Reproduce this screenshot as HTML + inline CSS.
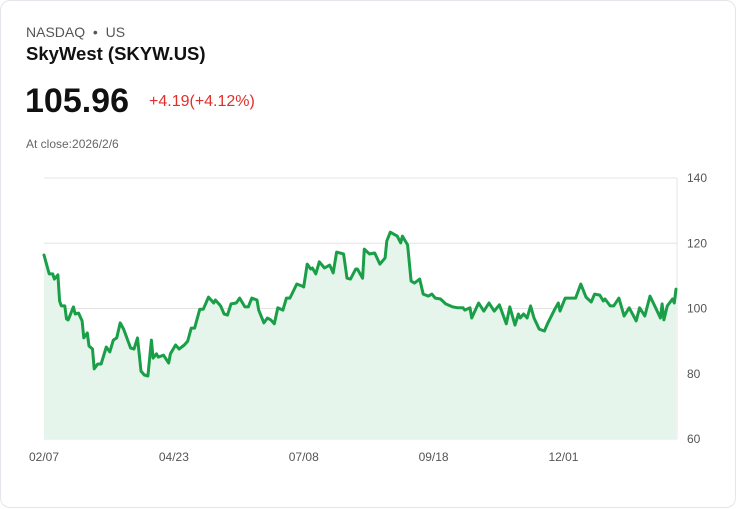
<!DOCTYPE html>
<html><head><meta charset="utf-8"><style>
body{margin:0;background:#fff;font-family:"Liberation Sans",sans-serif;}
.card{position:absolute;left:0;top:0;width:734px;height:506px;border:1px solid #e3e6ea;border-radius:10px;background:#fff;}
.t{position:absolute;white-space:nowrap;}
</style></head><body>
<div class="card">
<div class="t" style="left:25px;top:23px;font-size:14px;color:#555;">NASDAQ &nbsp;•&nbsp; US</div>
<div class="t" style="left:25px;top:42px;font-size:18.5px;font-weight:bold;color:#111;">SkyWest (SKYW.US)</div>
<div class="t" style="left:24px;top:81px;font-size:34px;font-weight:bold;color:#111;">105.96</div>
<div class="t" style="left:148px;top:92px;font-size:16px;color:#e0302b;">+4.19(+4.12%)</div>
<div class="t" style="left:25px;top:136px;font-size:12px;color:#666;">At close:2026/2/6</div>
<svg id="chart" width="736" height="508" style="position:absolute;left:0;top:0;"></svg>
</div>
<script>
const days=[0,3,5,6,8,9,10,12,13,14,17,18,20,22,23,25,26,28,29,31,33,36,38,40,42,44,46,50,52,54,56,58,60,62,63,65,66,69,72,73,76,78,81,83,85,87,90,92,95,98,99,102,104,106,108,111,113,116,118,120,123,124,127,129,131,133,135,138,140,142,146,149,150,152,154,155,157,159,162,165,167,169,173,175,177,180,181,184,185,188,191,194,197,198,200,204,206,207,210,212,214,217,219,222,224,226,229,232,236,239,242,243,246,247,251,254,257,260,263,267,269,272,274,275,277,279,281,283,286,289,291,295,297,298,301,304,307,310,313,316,318,321,323,324,327,329,332,335,338,342,344,347,350,353,356,357,358,360,363,364,365];
const prices=[116.4,110.6,110.6,109.0,110.3,102.3,100.8,100.8,96.8,96.5,100.5,98.3,98.6,96.2,91.0,92.5,88.5,87.6,81.5,83.0,83.0,88.2,86.7,90.3,91.0,95.6,93.7,87.9,87.6,91.0,80.8,79.6,79.3,90.3,84.8,86.1,85.1,85.7,83.3,86.1,88.8,87.6,88.8,90.0,94.0,94.0,99.8,99.8,103.5,101.7,102.6,100.8,98.3,98.0,101.4,101.7,103.2,100.5,100.5,103.2,102.6,99.5,95.6,97.1,96.5,95.3,100.2,99.5,103.2,103.2,107.5,106.9,106.6,113.6,112.1,112.4,110.6,114.3,112.4,113.3,110.9,117.3,116.7,109.3,109.0,112.1,112.1,109.3,118.2,116.7,117.0,113.6,115.5,120.7,123.4,122.2,120.1,122.2,119.5,108.4,107.8,109.0,104.4,103.8,104.4,103.2,102.9,101.4,100.5,100.2,100.2,99.5,100.2,97.1,101.7,99.2,101.7,99.2,101.1,95.3,100.5,94.9,98.3,97.1,98.3,97.1,100.8,97.1,93.7,93.1,95.6,99.8,101.7,99.2,103.2,103.2,103.2,107.5,103.5,102.0,104.4,104.1,102.3,102.9,100.8,100.8,103.2,97.7,100.2,96.2,100.2,97.7,103.8,100.5,97.1,101.4,96.5,100.8,102.9,101.7,105.96];
const yTicks=[60,80,100,120,140];
const xTickDays=[0,75,150,225,300];
const xTickLabels=["02/07","04/23","07/08","09/18","12/01"];
const svg=document.getElementById('chart');const NS='http://www.w3.org/2000/svg';
const X0=43,X1=676,Y0=438,Y1=177,DMAX=365,VMIN=60,VMAX=140;
const xs=d=>X0+(X1-1-X0)*d/DMAX, ys=v=>Y0-(Y0-Y1)*(v-VMIN)/(VMAX-VMIN);
function mk(t,a){const e=document.createElementNS(NS,t);for(const k in a)e.setAttribute(k,a[k]);svg.appendChild(e);return e;}
yTicks.forEach(v=>{
 const l=mk('line',{x1:X0,x2:X1,y1:ys(v),y2:ys(v),stroke:'#e4e4e4','stroke-width':1});
 
 
 const t=mk('text',{x:686,y:ys(v)+4,'font-size':12,fill:'#555','font-family':'Liberation Sans, sans-serif'});t.textContent=v;
 
 
});
const ax=mk('line',{x1:X1,x2:X1,y1:Y1,y2:Y0,stroke:'#e4e4e4','stroke-width':1});


xTickDays.forEach((d,i)=>{
 const t=mk('text',{x:xs(d)-15,y:460,'font-size':12,fill:'#555','font-family':'Liberation Sans, sans-serif'});t.textContent=xTickLabels[i];
 
 
});
let p=days.map((d,i)=>(i?'L':'M')+xs(d).toFixed(1)+','+ys(prices[i]).toFixed(1)).join('');
const area=mk('path',{d:p+'L'+xs(days[days.length-1])+','+Y0+'L'+X0+','+Y0+'Z',fill:'#e6f5ec'});


const line=mk('path',{d:p,fill:'none',stroke:'#1a9f48','stroke-width':3,'stroke-linejoin':'round','stroke-linecap':'round'});


</script>
</body></html>
